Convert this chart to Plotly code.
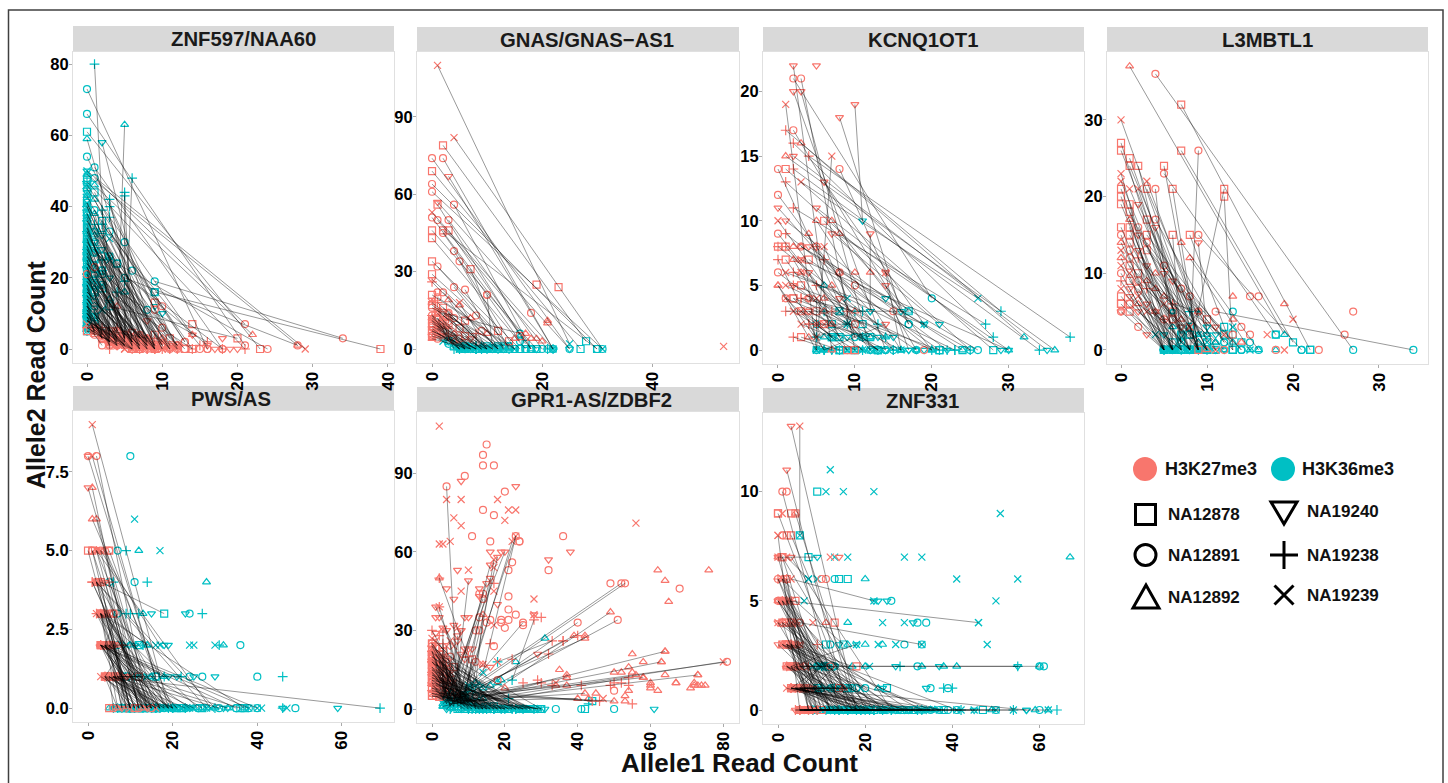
import plotly.graph_objects as go

RED = "#F8766D"
TEAL = "#00BFC4"
SAMPLE_NAMES = {"a": "NA12878", "b": "NA12891", "c": "NA12892", "d": "NA19240", "e": "NA19238", "f": "NA19239"}
SYMBOLS = {"a": "square-open", "b": "circle-open", "c": "triangle-up-open", "d": "triangle-down-open", "e": "cross-thin-open", "f": "x-thin-open"}

# ---------- ZNF597/NAA60 ----------
ZNF597_X36 = [1,0,0,0,0,2,5,6,5,5, 3,3,2,3,0,1,1,1,5,4, 5,9,9,0,0,0,0,0,1,1, 0,0,0,1,1,2,2,2,3,3, 0,0,0,0,0,0,0,1,1,1, 0,0,0,0,0,1,1,2,2,3, 0,0,0,0,0,0,1,1,2,3, 0,0,0,0,0,0,1,1,2,2, 0,0,0,0,0,0,0,1,1,4, 0,0,0,0,0,0,0,1,2,3, 0,0,0,0,0,0,1,1,1,8, 0,0,0,0,0,0,0,0,1,1,
              0,0,1,0,0,2,0,1,0,0, 1,0,0,3,0,0,1,0,0,2, 0,0,1,0,0,0,2,0,1,0, 0,1,0,0,3,0,0,1,0,0, 0,2,0,0,1,0,0,0,1,0, 0,1,0,0,2,0,1,0,0,0]
ZNF597_Y36 = [80,73,66,61,59,58,63,48,44,43, 42,40,39,37,54,51,48,46,30,24, 20,19,16,50,49,47,46,45,44,42, 43,41,40,39,38,36,35,34,33,31, 41,40,38,37,36,35,34,33,32,30, 33,32,31,30,29,28,27,26,25,25, 28,27,26,25,24,23,22,21,22,20, 23,22,21,20,19,18,19,18,18,17, 18,17,16,15,14,13,12,16,15,16, 14,13,12,11,10,9,8,12,11,12, 11,10,9,8,7,6,10,9,8,11, 9,8,7,6,5,10,6,5,7,6,
              38,36,35,34,33,32,31,30,29,28, 27,27,26,26,25,24,24,23,22,22, 21,21,20,20,19,19,18,18,17,17, 16,16,15,15,14,14,13,13,12,12, 11,11,10,10,9,9,8,8,7,7, 30,28,26,24,22,20,18,16,14,12]
ZNF597_X27 = [3,16,21,23,8,9,4,5,5,6, 7,11,4,9,12,18,21,22,7,24, 28,34,39,29,28,21,14,13,11,10, 10,9,8,12,7,14,15,6,13,10, 9,8,7,6,11,5,6,12,10,8, 7,9,5,8,6,16,18,10,9,5, 6,4,7,5,9,3,11,6,4,12, 5,3,4,8,6,2,7,5,3,14, 4,3,6,2,5,1,3,9,4,16, 3,2,5,1,4,2,6,3,7,20, 2,3,1,4,2,1,3,5,2,12, 1,2,1,3,1,2,4,6,3,8,
              9,8,10,6,7,11,5,8,4,6, 9,7,5,10,3,6,8,4,7,5, 9,3,6,4,8,5,7,3,6,4, 8,2,5,7,3,6,4,9,2,5, 3,7,4,2,6,3,5,2,4,3, 13,11,12,10,9,7,8,6,5,4]
ZNF597_Y27 = [0,0,1,0,1,0,5,3,2,0, 3,1,6,0,0,0,7,4,4,0, 1,3,0,0,1,0,4,2,3,3, 1,2,0,1,0,0,1,3,2,0, 1,2,4,5,0,3,1,1,2,3, 1,0,4,2,2,1,0,1,3,2, 3,5,0,4,1,4,0,1,2,0, 3,2,1,1,2,4,3,1,5,0, 3,2,2,5,0,4,1,0,1,2, 4,3,1,5,2,6,0,1,1,3, 4,2,5,3,1,6,2,1,3,1, 5,4,6,2,5,3,1,0,2,3,
              1,3,0,4,2,0,3,1,5,2, 0,3,4,1,5,2,0,4,1,3, 0,4,2,3,1,2,0,3,1,2, 0,4,2,1,3,0,2,1,3,1, 3,0,1,4,0,2,1,3,1,2, 0,1,1,2,0,3,1,2,1,3]
ZNF597_S = "ebbacdceee" "eeeebbbcbb" "bbafcedbac" "dfebcaeabf" "abcdefabcd" "fabecdbaef" "cbadfecbad" "efbcaedfba" "cdaefbcade" "fabcdeabfa" "eacfbdecab" "dfacebdfac" "abefcdabfe" "dcabefdcab" "fedcbafedc" "eabdcfeabd" "cfeabdcfea" "bdcfeabdcf"
ZNF597_EX36 = [0,0,0,0,0,0,0,0,0,0, 0,0,0,0,0,0,0,0,0,0, 0,0,0,0,0,0,0,0,0,0, 0,0,0,0,0,0,0,0,0,0, 0,0,0,0,0,0,1,1,1,2, 2,3,4,5,5,6,9,9,10]
ZNF597_EY36 = [5,6,7,8,9,10,11,12,13,14, 15,16,17,18,19,20,21,22,23,24, 25,26,27,28,29,30,31,32,33,34, 35,36,37,38,39,40,41,42,43,44, 45,46,47,48,49,50,33,29,24,28, 21,26,24,19,16,22,16,12,10]
ZNF597_ES36 = "abcdefabcd" "efabcdefab" "cdefabcdef" "abcdefabcd" "efabcdcefd" "bfaecbbdd"
ZNF597_EX27 = [0,0,0,1,1,1,2,2,3,3, 4,4,5,5,6,6,7,7,8,8, 9,9,10,10,11,11,12,12,13,14, 15,16,17,18,19,20,1,0,10,9, 9,10,14,14,18,9,8,4]
ZNF597_EY27 = [5,6,7,4,5,6,3,4,2,3, 1,2,0,1,0,1,0,1,0,1, 0,1,0,1,0,1,0,1,0,0, 0,0,0,0,0,0,23,21,12,13, 11,6,7,4,3,4,8,12]
ZNF597_ES27 = "aefcbdefac" "bdfeaeefbc" "edfabdefae" "bbdeddbbba" "bbacdadc"

# ---------- GNAS/GNAS-AS1 ----------
GNAS_X27 = [1,4,2,0,2,0,3,0,0,1, 1,4,0,0,1,3,0,2,3,2, 0,4,5,0,1,7,0,0,0,4, 6,10,2,0,1,3,5,0,0,1, 0,2,1,3,0,1,2,4,0,1, 0,2,1,3,0,1,2,0,1,3, 0,1,2,0,1,2,0,1,0,2, 0,1,0,1,2,0,1,0,1,3, 5,4,6,7,8,3,4,5,9,2]
GNAS_Y27 = [110,82,79,74,74,69,67,64,61,57, 56,56,53,51,50,50,46,46,46,45, 43,38,34,34,32,31,29,27,26,24, 23,21,22,21,20,19,18,17,16,18, 18,16,15,14,13,15,13,12,12,12, 11,11,10,14,10,9,9,9,8,12, 8,8,7,7,6,6,7,5,5,5, 6,4,4,9,10,11,12,13,14,5, 4,6,5,4,6,9,3,8,7,14]
GNAS_X36 = [25,31,28,25,22,27,22,30,31,25, 17,18,22,18,21,20,19,30,18,16, 17,15,14,16,14,13,15,13,12,13, 12,11,12,14,15,9,10,12,13,10, 11,12,9,10,8,9,11,10,7,6, 8,9,6,7,8,10,5,6,7,9, 5,6,8,7,4,5,6,4,3,5, 6,3,7,5,4,5,3,4,6,8, 10,7,9,11,8,6,4,10,12,16]
GNAS_Y36 = [2,0,3,0,0,0,0,0,0,0, 2,0,0,0,0,0,0,0,0,3, 0,0,0,0,1,0,0,1,0,0, 0,0,0,1,0,1,0,0,1,0, 0,1,0,0,1,0,0,0,1,0, 0,0,1,0,0,0,0,0,0,1, 0,0,0,0,2,0,1,3,3,0, 0,2,0,1,0,0,3,2,0,0, 0,1,0,0,0,0,2,1,0,6]
GNAS_S = "ffabbadbbd" "abfbbbaaab" "abbabaadeb" "bbbabcfabe" "cadbefabcd" "aefcbdfabe" "dcafbeacdf" "abcdefabde" "bcadefcabb"
GNAS_EX27 = [19,23,18,21,21,18,19,20,53,10, 5,10,12,8,7,6,15,14,0,0, 1,1,2,2,3,3,16,17]
GNAS_EY27 = [25,24,14,10,11,4,4,3,1,21, 17,6,7,13,12,11,4,3,5,19, 7,22,9,12,8,10,5,6]
GNAS_ES27 = "aabcccccfb" "ccabcacaad" "ebdfeaac"
GNAS_EX36 = [3,2,4,5,6,7,8,9,10,11, 12,13,14,15,16,17,18,19,21,22, 22,16,15,5,6,7,8,9,10,11]
GNAS_EY36 = [3,3,1,0,0,0,0,0,0,0, 0,0,0,0,0,0,0,0,0,0, 0,5,4,1,1,1,1,0,0,1]
GNAS_ES36 = "cfabcdefab" "cdefabcdeb" "eccadfebcd"

# ---------- KCNQ1OT1 ----------
KCNQ_X27 = [2,2,3,2,3,10,1,8,1, 2,2,3,4,1,2,7,0,1,2, 8,1,3,6,0,0,2,5,0,1, 5,6,7,0,1,4,7,8,12,0, 1,3,3,4,5,6,0,1,2,3, 4,0,1,2,3,4,8,14,0,1, 2,3,5,7,10,14,0,1,2,3, 4,1,2,3,5,6,8,1,2,3, 4,6,9,3,4,5,7,10,15,3, 4,6,5,7,10,14,2,3,4,5]
KCNQ_Y27 = [22,21,21,20,20,19,19,18,17, 17,16,16,15,15,15,15,14,14,14, 14,13,13,13,12,11,11,11,10,10, 10,10,10,9,9,9,9,9,9,8, 8,8,8,8,8,8,7,7,7,7, 7,6,6,6,6,6,6,6,5,5, 5,5,5,5,5,5,5,4,4,4, 4,4,4,4,4,4,4,3,3,3, 3,3,3,3,3,3,3,3,3,2, 2,2,2,2,2,2,1,1,1,1]
KCNQ_X36 = [7,20,10,14,12,11,5,16,29, 17,28,32,38,36,35,5,10,28,34, 17,25,26,19,15,12,27,29,11,14, 16,17,20,12,20,6,21,30,12,13, 8,26,24,22,11,9,5,7,9,30, 21,13,19,23,14,8,10,16,6,8, 11,13,15,12,25,17,5,9,7,10, 15,8,11,13,5,20,18,6,10,7, 14,16,9,11,13,8,21,17,18,7, 6,12,9,11,5,6,7,8,6,9]
KCNQ_Y36 = [0,4,0,0,0,10,0,3,3, 2,1,1,1,0,0,0,1,0,0, 2,0,4,2,0,3,2,0,1,4, 0,3,0,0,0,5,2,0,3,2, 3,0,0,0,1,4,1,2,0,0, 0,0,2,0,1,1,1,0,0,3, 3,0,0,1,0,0,0,2,1,3, 1,0,2,0,1,0,0,3,0,1, 0,0,2,0,0,1,0,3,0,1, 0,1,0,0,2,0,0,0,1,2]
KCNQ_S = "dbbdddfde" "bececdfbae" "befdbdedfd" "cacbecdcde" "abcdefeacd" "abfecdbfcf" "eaecbdcfae" "dbaefcdefa" "bcefdaecbf" "eafcbdeacf"
KCNQ_EX27 = [10,12,14,0,1,2,5,6,8,3, 4,2,3,5,4,6,19,7,9,10, 5]
KCNQ_EY27 = [6,6,6,8,8,8,8,7,6,7, 4,5,6,2,2,2,0,0,0,0, 22]
KCNQ_ES27 = "ccdaecbecf" "bdfeefbcaa" "d"
KCNQ_EX36 = [5,6,7,8,9,10,11,12,13,14, 15,16,17,18,19,21,22,23,24,5, 6,7,8,9,10,11,12,13,14,5, 7,9]
KCNQ_EY36 = [0,0,0,0,0,0,0,0,0,0, 0,0,0,0,0,0,0,0,0,0, 0,0,0,0,0,1,1,1,1,1, 1,1]
KCNQ_ES36 = "fedabcefab" "ecdcdaeeab" "cdefabcdef" "dd"

# ---------- L3MBTL1 ----------
L3MB_X27 = [1,4,7,0,0,0,7,9,1,1, 2,5,5,0,0,3,0,1,2,3, 4,6,12,12,0,2,0,1,1,3, 1,4,4,0,1,2,3,0,1,2, 0,1,3,6,8,9,9,7,0,1, 2,3,0,1,2,5,8,0,1,3, 0,1,2,4,5,0,1,2,3,6, 0,1,2,3,4,7,0,1,2,5, 8,0,1,2,3,5,6,0,1,2, 4,3,4,6,5,6,7,8,9,11]
L3MB_Y27 = [37,36,32,30,27,26,26,26,25,24, 24,24,23,23,22,22,21,21,21,21, 21,21,21,20,20,19,19,19,18,17, 17,17,16,16,16,16,15,15,15,15, 14,14,14,15,15,15,14,14,13,13, 13,13,12,12,12,11,12,11,11,11, 10,10,10,10,10,9,9,9,9,9, 8,8,8,8,8,8,7,7,7,7, 7,6,6,6,6,6,6,5,5,5, 5,5,5,5,4,4,3,3,5,5]
L3MB_X36 = [19,27,22,9,7,9,20,8,9,10, 7,9,18,6,8,10,7,9,8,11, 6,9,8,13,6,10,7,5,8,10, 6,12,9,6,5,9,12,5,8,10, 6,8,12,7,13,21,10,16,6,7, 9,13,5,8,10,14,15,6,8,11, 5,7,9,12,6,5,8,10,13,11, 6,5,7,9,10,14,5,8,6,11, 9,5,7,6,8,10,9,5,6,7, 9,5,6,8,5,6,7,9,6,34]
L3MB_Y36 = [2,0,0,2,2,0,1,0,0,0, 1,0,2,0,0,1,0,0,0,0, 0,0,0,0,1,0,0,0,2,0, 0,1,0,0,0,0,2,0,0,3, 0,0,1,0,0,0,2,0,0,1, 0,0,0,3,0,0,0,0,2,0, 0,1,0,0,5,0,0,0,1,2, 0,0,0,0,2,0,0,0,0,1, 0,0,0,3,0,0,5,0,0,0, 1,0,0,0,0,0,3,0,0,0]
L3MB_S = "cbafaaabaa" "aabfffaffa" "baaaadaaaa" "cbdaababad" "cabaabdcfb" "dacbebcfad" "bfacdeabcd" "fdaecbadfc" "babcdfebad" "cfdaebdfbb"
L3MB_EX27 = [13,15,16,19,27,26,13,20,17,15, 23,19,18,14,13,0,0,1,3,2, 9,10,11,12,5,6,7,8,9,10, 11,12,14]
L3MB_EY27 = [7,7,7,6,5,2,4,4,2,2, 0,0,0,3,2,5,6,6,2,3, 5,4,3,2,4,4,4,3,0,0, 0,0,1]
L3MB_ES27 = "cbbcbbcffb" "bfbbbdaadb" "cadfbacfac" "fbc"
L3MB_EX36 = [18,18,16,21,22,13,13,12,13,15, 14,10,11,9,6,8,10,12,14,15, 5,7,4,9,5,7,8]
L3MB_EY36 = [2,0,0,0,0,5,3,3,2,1, 1,1,1,5,5,5,0,0,0,0, 0,0,2,2,2,2,3]
L3MB_ES36 = "acbbabfaab" "aaccceadbf" "befcdda"

# ---------- PWS/AS ----------
PWS_X27 = [1,0,1,2,0,1,1,2,0,1, 2,3,4,5,1,2,3,1,2,3, 2,3,4,5,2,3,4,5,2,3, 3,4,5,6,3,4,5,3,4,3, 4,5,6,8,4,5,6,7,4,5, 3,4,5,6,4,5,3,4,6,7, 4,5,6,8,10,4,5,7,4,6, 3,4,4,8,3,5,7,4,5,2, 3,6,9,3,3,7,2,3,6,8, 3,3,4,7,4,2,6,3,3,4, 6,4,4,9,12,1,6,3,2,3]
PWS_Y27 = [9,8,8,8,7,7,6,6,5,5, 5,5,5,5,5,5,5,4,4,4, 4,4,4,4,3,3,3,3,3,3, 3,3,3,3,2,2,2,2,2,2, 2,2,2,2,2,2,2,2,2,2, 2,2,2,2,1,1,1,1,1,1, 1,1,1,1,1,1,1,1,1,1, 2,1,2,1,3,1,1,2,1,4, 2,1,1,3,2,1,4,3,1,1, 2,3,2,1,3,4,1,2,3,1, 1,2,3,1,1,4,1,2,5,3]
PWS_X36 = [19,16,18,14,15,12,20,13,10,13, 12,17,14,16,10,17,12,15,14,18, 20,9,11,16,13,8,17,15,19,10, 7,14,9,12,18,7,15,10,19,13, 9,21,11,16,12,8,14,8,17,20, 13,10,11,18,19,6,15,9,12,17, 11,13,9,22,25,7,16,14,10,18, 24,12,8,20,11,17,13,19,15,10, 27,16,13,21,9,18,30,14,12,8, 35,17,7,16,10,28,20,38,26,69, 23,40,19,33,36,11,31,15,29,37]
PWS_Y36 = [0,1,0,0,0,0,0,0,0,0, 0,2,0,1,0,0,0,0,0,3, 0,0,1,0,0,0,0,0,0,0, 0,2,0,0,1,3,0,0,0,0, 1,0,0,0,2,0,0,1,0,0, 0,0,0,1,0,0,0,2,1,0, 0,0,0,1,0,0,0,0,0,0, 0,0,1,0,0,0,1,0,0,0, 0,0,0,0,1,0,0,0,0,0, 0,0,1,0,0,0,0,0,0,0, 0,0,0,0,0,1,0,0,0,0]
PWS_S = "fbfbdcccaa" "cfbabcdefa" "bcdefcdbea" "dcfaebdefa" "bcdefabcde" "fabcdeffae" "bcdefabdec" "fadcebdfab" "cedfabcdfe" "bfdaecdfbe" "cbfdaebcfa"
PWS_EX27 = [5,6,7,8,9,10,11,12,13,14, 15,16,0,3,5,6,3,4]
PWS_EY27 = [0,0,0,0,0,0,0,0,0,0, 0,0,8,5,5,3,4,2]
PWS_ES27 = "abcdefabcd" "bfdbbbea"
PWS_EX36 = [10,11,7,9,12,17,5,6,11,14, 28,9,10,12,13,15,23,24,27,24, 25,30,31,32,36,14,16,18,19,40, 46,30,27,24,25,21,19,59,49,47, 46,46,41,40,38,37,35,33,32,30, 28,27,26,25,24,23,22,21,20,5, 6,7,8,9,10,11,12,13,14,15, 16,17,18,19,20,21,22,23,24,6, 7,8,9,10,11,12,13,14,15]
PWS_EY36 = [8,6,5,5,5,5,4,4,4,4, 4,3,3,3,3,3,3,3,3,2, 2,2,2,2,2,2,2,2,2,1, 1,1,1,1,1,1,1,0,0,0, 0,0,0,0,0,0,0,0,0,0, 0,0,0,0,0,0,0,0,0,0, 0,0,0,0,0,0,0,0,0,0, 0,0,0,0,0,0,0,0,0,2, 2,2,2,2,2,2,2,1,1]
PWS_ES36 = "bfbecfbebe" "ceeecddbef" "ffecbcfddb" "edbbddddbf" "deffbcbcde" "fabcdefabc" "defabcdefe" "abcdefabcd" "befcdaefc"

# ---------- GPR1-AS/ZDBF2 ----------
GPR1_X27 = [81,80,73,64,63,51,49,42,53,52, 40,39,36,33,28,25,23,23,22,20, 18,17,16,16,15,14,14,13,4,10, 8,6,2,2,1,3,4,5,3,7, 8,9,10,11,12,14,16,0,0,0, 0,0,0,0,1,1,1,1,1,2, 2,2,2,3,3,3,4,4,5,5, 0,0,0,0,1,1,1,2,2,3, 3,4,4,5,6,0,0,1,1,2, 2,3,3,4,5,6,7,0,1,2, 46,44,40,50,54,42,58,34,37,30,
            0,0,1,0,2,1,0,3,1,0, 2,0,1,3,0,2,1,0,4,1, 0,2,0,1,3,0,2,1,0,5, 1,0,3,1,0,2,0,6,1,0, 2,4,0,1,3,0,2,1,0,3, 1,0,2,0,4,1,0,3,2,0]
GPR1_Y27 = [18,18,13,22,18,34,37,27,48,48, 33,28,26,26,34,33,66,66,64,60, 58,57,55,50,48,42,36,35,85,49, 30,32,50,39,39,30,30,26,25,28, 21,22,20,19,18,17,16,30,27,25, 24,22,20,18,26,23,21,19,17,22, 20,18,16,19,17,15,16,14,15,13, 15,14,12,10,14,12,10,13,11,12, 10,11,9,11,10,8,6,9,7,8, 6,7,5,6,7,5,6,5,5,4, 3,3,4,3,12,6,12,9,12,10,
            25,24,23,22,21,21,20,20,19,19, 18,18,17,17,16,16,15,15,14,14, 13,13,12,12,11,11,10,10,9,20, 9,8,8,7,7,6,6,16,6,5, 5,18,14,8,22,18,12,18,11,15, 16,10,19,22,24,11,13,9,14,16]
GPR1_X36 = [4,6,5,3,8,12,14,6,11,10, 7,5,9,18,22,6,8,14,10,4, 9,11,6,7,5,4,12,9,7,6, 3,8,15,9,14,3,10,6,5,8, 4,12,7,9,5,3,4,12,20,9, 15,6,23,11,18,7,13,4,22,9, 25,6,14,19,8,11,5,17,3,10, 24,6,13,4,21,9,16,7,27,5, 18,12,3,23,8,11,15,29,6,10, 20,4,14,26,7,17,9,30,5,12, 2,3,5,7,21,6,4,4,5,8,
            14,8,19,5,26,10,17,6,21,12, 4,16,28,9,13,7,23,11,18,5, 15,8,25,6,20,10,3,14,7,30, 12,18,5,9,22,4,13,27,8,16, 6,24,11,19,3,10,15,7,29,12, 4,20,9,14,6,17,25,8,13,5]
GPR1_Y36 = [3,2,2,1,3,5,4,5,8,8, 1,2,5,18,11,2,3,14,9,4, 6,8,3,2,4,3,10,5,2,1, 3,2,0,4,0,6,1,4,3,0, 2,0,1,3,1,2,0,0,0,4, 0,2,0,1,0,3,0,5,0,2, 0,1,0,0,3,1,2,0,4,0, 0,3,1,2,0,1,0,3,0,1, 0,1,4,0,2,0,1,0,1,0, 0,2,0,0,3,0,1,0,2,1, 6,8,3,6,4,3,4,5,4,2,
            0,2,0,1,0,3,0,4,0,1, 5,0,0,2,1,3,0,0,0,6, 0,3,0,2,0,1,4,0,2,0, 1,0,3,0,0,5,0,0,2,0, 4,0,1,0,6,2,0,3,0,1, 4,0,2,0,5,1,0,3,0,6]
GPR1_S = "bfcccbccbb" "bceeebbffd" "dfdddbcbbd" "ddefdcdfed" "dfeabcdefa" "bcdefabcde" "fabcdefabc" "defabcdefa" "bcdefabcde" "fabcdefabc" "eeccecccce" "aeaeafaeae" "eaeafaeaae" "aeaefaeaeb" "eaeaeafaea" "eafeaeaeaf" "aeaefaeaeb"
GPR1_EX27 = [2,15,14,14,17,9,8,23,20,4, 8,18,14,17,23,21,6,8,20,11, 36,2,3,5,16,24,56,38,32,32, 62,64,68,76,65,49,60,50,21,18, 13,14,21,19,7,10,11,9,3,4, 55,58,67,72,74,71,60,54,45,47, 43,62,53,0,0,0,0,0,0,0, 0,1,1,2,28,30,34,20,18,
             55,58,63,64,54,50,52,56,58,64, 73,60,67,72,73,75,35,37,37,53, 42,40,32,29,25,33,41,49,54,55, 50,52,36,28,28,25,23,20,19,16, 15,17,21,14,13,13,21,22,24,16, 19,17,17,17,8,10,7,4,2,6, 2,9,10,1,2,3,7,8,12,13, 16,17,9,6,29,18,22,14]
GPR1_EY27 = [108,101,97,93,93,89,87,85,83,80, 80,80,76,74,76,76,73,70,72,66, 66,63,63,64,64,64,71,60,57,53, 53,49,46,53,41,48,10,7,38,40, 44,42,34,33,26,23,23,19,22,19, 14,12,10,9,9,8,8,7,6,4, 4,7,5,22,21,20,19,18,17,16, 15,29,25,28,36,35,10,8,11,
             21,18,18,22,16,14,14,13,12,13, 13,9,10,10,9,9,15,13,9,3, 28,28,21,11,10,9,9,9,9,2, 10,10,26,36,42,32,36,31,34,34, 33,32,43,44,46,43,53,56,64,60, 60,54,48,45,45,53,53,46,50,42, 39,35,35,35,35,31,31,30,30,30, 25,24,23,24,21,18,19,17]
GPR1_ES27 = "fbbbbbddbf" "ffbbfffffb" "bfffbbfddb" "ccbccbcbbd" "bbbbddddbb" "cccccccccf" "cccaaaaaaa" "adeedefcb" "cccccccccc" "cccccccccc" "ceeeeeeeee" "eeeffbbbbb" "bfbbddbbbd" "dfefffddcd" "edddddfdbb" "ebdfdfe" "f"
GPR1_EX36 = [31,23,61,50,41,42,31,34,28,29, 44,43,25,26,27,3,4,5,6,7, 8,9,10,11,12,13,14,15,16,17, 18,19,20,21,22,24,16,14,13,19, 18]
GPR1_EY36 = [27,18,0,0,0,0,0,0,0,0, 3,2,0,0,0,1,1,0,0,0, 0,0,0,0,0,0,0,0,0,0, 0,0,0,0,0,0,9,8,9,11, 10]
GPR1_ES36 = "ccdbbadbbd" "aedfbcdefa" "bcdefabcde" "fabcdfcccc" "c"

# ---------- ZNF331 ----------
ZNF331_X27 = [3,5,2,1,0,4,0,3,1,0, 2,3,1,2,0,1,3,0,1,2, 4,0,1,2,3,0,1,2,5,0, 1,3,4,2,0,1,2,3,1,2, 3,5,1,2,3,4,2,3,4,6, 2,3,4,5,2,3,4,5,7,2, 3,4,5,6,3,4,5,7,3,4, 5,6,3,4,5,8,3,5,6,4, 5,7,3,4,6,5,3,4,5,6, 5,6,7,4,5,8,5,6,9,5, 4,6,7,5,6,8,5,7,10,6, 5,6,7,8,5,6,7,8,5,6,
              0,1,2,0,1,2,3,1,2,3, 0,1,2,3,4,1,2,3,4,2, 3,4,2,3,5,3,4,3,4,5]
ZNF331_Y27 = [13,13,11,10,9,9,8,8,7,7, 7,7,6,6,6,6,6,5,5,5, 5,5,5,5,5,4,4,4,4,4, 4,4,4,3,3,3,3,3,3,3, 3,3,3,3,3,3,2,2,2,2, 2,2,2,2,2,2,2,2,2,1, 1,1,1,1,1,1,1,1,1,1, 1,1,1,1,1,1,1,1,1,1, 1,1,1,1,1,1,1,1,1,1, 0,0,0,0,0,0,0,0,0,0, 0,0,0,0,0,0,0,0,0,0, 0,0,0,0,0,0,0,0,0,0,
              7,7,6,6,6,5,5,5,5,4, 5,5,4,4,4,4,3,3,3,3, 3,3,2,2,2,2,2,3,2,3]
ZNF331_X36 = [18,5,16,14,17,18,5,20,22,9, 7,26,6,7,10,12,22,18,19,46, 15,11,24,21,13,27,30,12,33,9, 22,10,17,25,16,19,11,14,35,20, 28,33,13,41,17,12,24,18,9,60, 15,29,11,37,21,13,8,55,26,19, 31,14,10,57,22,12,16,9,35,25, 18,11,28,15,20,13,33,8,24,17, 12,30,10,19,38,14,16,27,21,9, 20,11,34,13,8,42,18,24,62,15, 26,31,19,10,36,17,13,50,22,27, 35,12,16,45,29,9,23,33,20,54,
              10,12,9,15,8,14,18,11,7,16, 13,9,17,10,19,8,12,15,21,9, 11,16,13,8,18,10,14,7,20,24]
ZNF331_Y36 = [0,8,0,0,0,0,0,0,0,7, 6,0,5,0,1,0,5,0,0,4, 3,2,0,0,1,0,0,0,3,1, 0,2,0,0,0,1,2,0,0,0, 0,0,1,0,2,0,0,3,1,2, 0,0,2,0,0,0,0,2,0,0, 0,1,2,0,0,0,1,2,0,0, 0,1,0,0,0,2,0,1,0,1, 1,0,2,0,0,0,1,0,0,0, 0,0,0,0,0,0,0,0,0,0, 0,0,0,0,0,0,0,0,0,0, 0,0,0,0,0,0,0,0,0,0,
              0,0,0,0,0,0,0,0,0,0, 0,0,0,0,0,0,0,0,0,0, 0,0,0,0,0,0,0,0,0,0]
ZNF331_S = "dfdbacfaad" "fdfaecfdef" "abcdefaabd" "efcbdfaecb" "dfabcdefab" "cdefabcdef" "abcdefabcd" "efabcdefab" "cdefabcdef" "abcdefabcd" "efabcdefab" "cdefabcdef" "faebcdfaeb" "cdfaebcdfa" "ebcdfaebcd"
ZNF331_EX27 = [2,0,4,1,3,0,1,2,0,14,12,11,10,8,9,11,13,12,18,14,15,5,6,7,8,9]
ZNF331_EY27 = [10,9,9,9,9,8,8,8,7,7,7,6,6,4,3,4,4,2,2,1,1,0,0,0,0,0]
ZNF331_ES27 = "baafafbacd" "fbbfecabaa" "cabcde"
ZNF331_EX36 = [12,9,11,15,22,51,5,7,13,16, 29,33,67,41,55,20,16,14,13,9, 7,50,22,25,26,23,24,29,31,32, 34,46,16,48,33,29,27,24,23,61, 60,55,41,38,37,33,32,28,27,20, 21,40,39,38,35,34,25,24,23,20, 18,15,14,13,64,62,60,59,57,54, 50,49,47,45,42,41,39,37,36,35, 34,33,32,31,30,28,26,24,22,20, 19,18,16,14,12,10,9,8,15,11, 12,13,9,10,7,8,11,12,20,18,16,14]
ZNF331_EY36 = [11,10,10,10,10,9,8,7,7,7, 7,7,7,6,6,6,6,6,6,6, 6,5,5,5,5,5,4,4,4,4, 4,4,4,3,3,3,3,3,3,2, 2,2,2,2,2,2,2,2,2,2, 2,1,1,1,1,1,1,1,1,1, 1,1,1,1,0,0,0,0,0,0, 0,0,0,0,0,0,0,0,0,0, 0,0,0,0,0,0,0,0,0,0, 0,0,0,0,0,0,0,0,1,1, 2,2,2,2,2,2,3,3,3,3,3,3]
ZNF331_ES36 = "faffffaaff" "ffcffcaabf" "ffddbdffdb" "bfcffbfcfb" "ceccdcbedc" "febebdadcb" "bdcdefbcde" "bcadefbbcb" "dbefbacdef" "cdefabcdef" "abcdefabcd" "cd"

PANELS = [
    dict(title="ZNF597/NAA60", tx=243, box=(73, 394, 52, 363), strip=(26, 52), xr=(-1.86, 40.8), yr=(-3.93, 83.4), xt=[0,10,20,30,40], yt=[0,20,40,60,80], yl=["0","20","40","60","80"],
         d=(ZNF597_X27, ZNF597_Y27, ZNF597_X36, ZNF597_Y36, ZNF597_S), e27=(ZNF597_EX27, ZNF597_EY27, ZNF597_ES27), e36=(ZNF597_EX36, ZNF597_EY36, ZNF597_ES36)),
    dict(title="GNAS/GNAS\u2212AS1", tx=587, box=(417, 739, 52, 363), strip=(27, 52), xr=(-2.73, 55.8), yr=(-5.43, 115.2), xt=[0,20,40], yt=[0,30,60,90], yl=["0","30","60","90"],
         d=(GNAS_X27, GNAS_Y27, GNAS_X36, GNAS_Y36, GNAS_S), e27=(GNAS_EX27, GNAS_EY27, GNAS_ES27), e36=(GNAS_EX36, GNAS_EY36, GNAS_ES36)),
    dict(title="KCNQ1OT1", tx=923, box=(763, 1084, 52, 364), strip=(27, 52), xr=(-1.95, 39.8), yr=(-1.08, 23.05), xt=[0,10,20,30], yt=[0,5,10,15,20], yl=["0","5","10","15","20"],
         d=(KCNQ_X27, KCNQ_Y27, KCNQ_X36, KCNQ_Y36, KCNQ_S), e27=(KCNQ_EX27, KCNQ_EY27, KCNQ_ES27), e36=(KCNQ_EX36, KCNQ_EY36, KCNQ_ES36)),
    dict(title="L3MBTL1", tx=1267, box=(1107, 1428, 52, 364), strip=(27, 52), xr=(-1.63, 35.7), yr=(-1.83, 38.85), xt=[0,10,20,30], yt=[0,10,20,30], yl=["0","10","20","30"],
         d=(L3MB_X27, L3MB_Y27, L3MB_X36, L3MB_Y36, L3MB_S), e27=(L3MB_EX27, L3MB_EY27, L3MB_ES27), e36=(L3MB_EX36, L3MB_EY36, L3MB_ES36)),
    dict(title="PWS/AS", tx=231, box=(73, 394, 411, 722), strip=(386, 411), xr=(-3.55, 72.3), yr=(-0.44, 9.43), xt=[0,20,40,60], yt=[0,2.5,5,7.5], yl=["0.0","2.5","5.0","7.5"],
         d=(PWS_X27, PWS_Y27, PWS_X36, PWS_Y36, PWS_S), e27=(PWS_EX27, PWS_EY27, PWS_ES27), e36=(PWS_EX36, PWS_EY36, PWS_ES36)),
    dict(title="GPR1-AS/ZDBF2", tx=591, box=(417, 739, 412, 723), strip=(387, 412), xr=(-4.12, 84.3), yr=(-5.34, 113.4), xt=[0,20,40,60,80], yt=[0,30,60,90], yl=["0","30","60","90"],
         d=(GPR1_X27, GPR1_Y27, GPR1_X36, GPR1_Y36, GPR1_S), e27=(GPR1_EX27, GPR1_EY27, GPR1_ES27), e36=(GPR1_EX36, GPR1_EY36, GPR1_ES36)),
    dict(title="ZNF331", tx=922, box=(763, 1084, 413, 724), strip=(388, 413), xr=(-3.44, 70.2), yr=(-0.64, 13.6), xt=[0,20,40,60], yt=[0,5,10], yl=["0","5","10"],
         d=(ZNF331_X27, ZNF331_Y27, ZNF331_X36, ZNF331_Y36, ZNF331_S), e27=(ZNF331_EX27, ZNF331_EY27, ZNF331_ES27), e36=(ZNF331_EX36, ZNF331_EY36, ZNF331_ES36)),
]

W, H = 1448, 783
FONT = "Liberation Sans"
fig = go.Figure()
shapes, annos = [], []


def fit(xs, ys, s):
    n = min(len(xs), len(ys))
    ss = (s + "abcdef" * 50)[:n]
    return xs[:n], ys[:n], ss


for i, p in enumerate(PANELS, start=1):
    l, r, t, b = p["box"]
    ax = "" if i == 1 else str(i)
    fig.update_layout({
        f"xaxis{ax}": dict(domain=[l / W, r / W], range=list(p["xr"]), tickvals=p["xt"], ticktext=[str(v) for v in p["xt"]], tickangle=-90, ticklabelstandoff=-2,
                           tickfont=dict(family=FONT, size=17, color="black", weight="bold"), ticks="outside", ticklen=3, tickcolor="#aaaaaa", tickwidth=1,
                           showgrid=False, zeroline=False, showline=True, linecolor="#e0e0e0", linewidth=1, mirror=True, anchor=f"y{ax}"),
        f"yaxis{ax}": dict(domain=[1 - b / H, 1 - t / H], range=list(p["yr"]), tickvals=p["yt"], ticktext=p["yl"], ticklabelstandoff=-3,
                           tickfont=dict(family=FONT, size=16.5, color="black", weight="bold"), ticks="outside", ticklen=3, tickcolor="#aaaaaa", tickwidth=1,
                           showgrid=False, zeroline=False, showline=True, linecolor="#e0e0e0", linewidth=1, mirror=True, anchor=f"x{ax}"),
    })
    x27, y27, x36, y36, s = p["d"]
    n = min(len(x27), len(y27), len(x36), len(y36))
    s = (s + "abcdef" * 50)[:n]
    ex27, ey27, es27 = fit(*p["e27"])
    ex36, ey36, es36 = fit(*p["e36"])
    fig.add_trace(go.Scatter(x=list(x36[:n]) + list(ex36), y=list(y36[:n]) + list(ey36), xaxis=f"x{ax}", yaxis=f"y{ax}", mode="markers", showlegend=False, hoverinfo="skip",
                             marker=dict(symbol=[SYMBOLS[c] for c in s + es36], size=7, color=TEAL, line=dict(width=1.2, color=TEAL))))
    fig.add_trace(go.Scatter(x=list(x27[:n]) + list(ex27), y=list(y27[:n]) + list(ey27), xaxis=f"x{ax}", yaxis=f"y{ax}", mode="markers", showlegend=False, hoverinfo="skip",
                             marker=dict(symbol=[SYMBOLS[c] for c in s + es27], size=7, color=RED, line=dict(width=1.2, color=RED))))
    lx, ly = [], []
    for k in range(n):
        lx += [x27[k], x36[k], None]
        ly += [y27[k], y36[k], None]
    fig.add_trace(go.Scatter(x=lx, y=ly, xaxis=f"x{ax}", yaxis=f"y{ax}", mode="lines", showlegend=False, hoverinfo="skip",
                             line=dict(color="rgba(0,0,0,0.5)", width=0.8)))
    shapes.append(dict(type="rect", xref="paper", yref="paper", x0=l / W, x1=r / W, y0=1 - p["strip"][1] / H, y1=1 - p["strip"][0] / H, fillcolor="#D9D9D9", line=dict(width=0), layer="below"))
    annos.append(dict(xref="paper", yref="paper", x=p["tx"] / W, y=1 - sum(p["strip"]) / 2 / H, text=f"<b>{p['title']}</b>", showarrow=False,
                      font=dict(family=FONT, size=20.3, color="#1a1a1a"), xanchor="center", yanchor="middle"))

# Legend drawn on a hidden overlay axis measured in page pixels
LEGEND_COLOURS = [("H3K27me3", RED, 1145, 469, 1163), ("H3K36me3", TEAL, 1283, 469, 1300)]
LEGEND_SAMPLES = [("a", 1145.5, 514.5, 20, 1166), ("b", 1145.5, 555, 21, 1166), ("d", 1283.5, 511, 25, 1305), ("e", 1284, 555, 20, 1305), ("f", 1284, 595, 19, 1305)]
LEGEND_TRIANGLE = ("c", 1146, 597, 1166)
fig.update_layout(xaxis8=dict(domain=[0, 1], range=[0, W], visible=False, anchor="y8"), yaxis8=dict(domain=[0, 1], range=[H, 0], visible=False, anchor="x8"))
for name, col, cx, cy, tx in LEGEND_COLOURS:
    fig.add_trace(go.Scatter(x=[cx], y=[cy], xaxis="x8", yaxis="y8", mode="markers", showlegend=False, hoverinfo="skip", marker=dict(symbol="circle", size=24, color=col)))
    annos.append(dict(xref="paper", yref="paper", x=tx / W, y=1 - cy / H, text=f"<b>{name}</b>", showarrow=False, xanchor="left", yanchor="middle", font=dict(family=FONT, size=18, color="#111111")))
for c, cx, cy, sz, tx in LEGEND_SAMPLES:
    if c == "d":
        continue
    fig.add_trace(go.Scatter(x=[cx], y=[cy], xaxis="x8", yaxis="y8", mode="markers", showlegend=False, hoverinfo="skip", marker=dict(symbol=SYMBOLS[c], size=sz, color="black", line=dict(width=3, color="black"))))
for c, cx, cy, sz, tx in LEGEND_SAMPLES:
    annos.append(dict(xref="paper", yref="paper", x=tx / W, y=1 - cy / H, text=f"<b>{SAMPLE_NAMES[c]}</b>", showarrow=False, xanchor="left", yanchor="middle", font=dict(family=FONT, size=17, color="#111111")))
annos.append(dict(xref="paper", yref="paper", x=LEGEND_TRIANGLE[3] / W, y=1 - LEGEND_TRIANGLE[2] / H, text=f"<b>{SAMPLE_NAMES['c']}</b>", showarrow=False, xanchor="left", yanchor="middle", font=dict(family=FONT, size=17, color="#111111")))
shapes.append(dict(type="path", xref="x8", yref="y8", path="M 1146 585 L 1133 608 L 1159 608 Z", line=dict(color="black", width=3), fillcolor="rgba(0,0,0,0)"))
shapes.append(dict(type="path", xref="x8", yref="y8", path="M 1271 502 L 1297 502 L 1284 524 Z", line=dict(color="black", width=3), fillcolor="rgba(0,0,0,0)"))

annos.append(dict(xref="paper", yref="paper", x=739 / W, y=1 - 763 / H, text="<b>Allele1 Read Count</b>", showarrow=False, xanchor="center", yanchor="middle", font=dict(family=FONT, size=26, color="#111111")))
annos.append(dict(xref="paper", yref="paper", x=36 / W, y=1 - 375 / H, text="<b>Allele2 Read Count</b>", showarrow=False, textangle=-90, xanchor="center", yanchor="middle", font=dict(family=FONT, size=25, color="#111111")))
shapes.append(dict(type="rect", xref="paper", yref="paper", x0=8.5 / W, x1=1443 / W, y0=-0.02, y1=1 - 10 / H, line=dict(color="#404040", width=1.5), fillcolor="rgba(0,0,0,0)", layer="below"))

fig.update_layout(width=W, height=H, margin=dict(l=0, r=0, t=0, b=0, autoexpand=False), paper_bgcolor="white", plot_bgcolor="rgba(0,0,0,0)", shapes=shapes, annotations=annos, showlegend=False)
fig.write_html("out.html", config={"displayModeBar": False}, post_script="document.body.style.margin='0';document.body.style.overflow='hidden';")
